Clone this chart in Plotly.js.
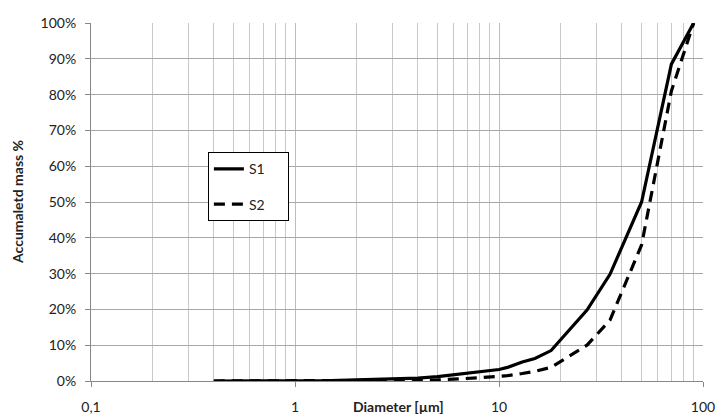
<!DOCTYPE html>
<html>
<head>
<meta charset="utf-8">
<script src="https://cdn.plot.ly/plotly-3.0.1.min.js"></script>
<style>
  html, body { margin: 0; padding: 0; background: #fff; }
  #chart { width: 721px; height: 414px; }
</style>
</head>
<body>
<div id="chart"></div>
<script>
// Particle diameters (µm)
const diameterS1 = [0.4, 0.5, 0.6, 0.8, 1, 1.5, 2, 3, 4, 5, 6, 8, 10, 11, 13, 15, 18, 27, 35, 50, 70, 90];
const massS1     = [0, 0, 0, 0, 0, 0.1, 0.3, 0.5, 0.8, 1.2, 1.7, 2.5, 3.2, 3.8, 5.3, 6.3, 8.5, 19.8, 29.8, 50, 88.5, 100];
const diameterS2 = [0.4, 0.5, 0.6, 0.8, 1, 1.5, 2, 3, 4, 5, 6, 8, 10, 11, 13, 15, 18, 27, 35, 50, 70, 90];
const massS2     = [0, 0, 0, 0, 0, 0, 0, 0.1, 0.2, 0.3, 0.5, 0.9, 1.3, 1.5, 2.1, 2.7, 3.8, 10, 17, 38, 81, 100];

const seriesNames = ["S1", "S2"];
const xTickVals = [0.1, 1, 10, 100];
const xTickText = ["0,1", "1", "10", "100"];
const yTitle = "Accumaletd mass %";
const xTitle = "Diameter [µm]";

// minor gridlines at 2..9 of each decade
const minorVals = [];
for (let d = -1; d < 2; d++) {
  for (let m = 2; m <= 9; m++) minorVals.push(m * Math.pow(10, d));
}

const FONT = "Lato, 'Open Sans', sans-serif";
const PAD = "\u00a0\u00a0\u00a0\u00a0\u00a0";

const traces = [
  {
    x: diameterS1, y: massS1, name: seriesNames[0] + PAD, type: "scatter", mode: "lines",
    line: { color: "#000", width: 3.2 }, legendgroup: "a"
  },
  {
    x: diameterS2, y: massS2, name: seriesNames[1] + PAD, type: "scatter", mode: "lines",
    line: { color: "#000", width: 3.2, dash: "11px,7px" }, legendgroup: "b"
  }
];

const layout = {
  width: 721, height: 414,
  margin: { l: 91, r: 18, t: 23, b: 33 },
  paper_bgcolor: "#fff", plot_bgcolor: "#fff",
  font: { family: FONT, size: 14, color: "#222" },
  showlegend: true,
  legend: {
    x: 0.191, y: 0.639, xanchor: "left", yanchor: "top",
    bordercolor: "#000", borderwidth: 1, bgcolor: "#fff",
    traceorder: "grouped", tracegroupgap: 14,
    font: { family: FONT, size: 14, color: "#222" }
  },
  xaxis: {
    type: "log", range: [-1, 2],
    tickmode: "array", tickvals: xTickVals, ticktext: xTickText,
    ticks: "outside", ticklen: 5, tickcolor: "#888",
    ticklabelstandoff: 8,
    showline: true, linecolor: "#888", linewidth: 1,
    showgrid: true, gridcolor: "#BDBDBD", gridwidth: 1,
    minor: { tickmode: "array", tickvals: minorVals, showgrid: true, gridcolor: "#C8C8C8", gridwidth: 1, ticks: "" },
    zeroline: false, fixedrange: true,
    tickfont: { family: FONT, size: 14, color: "#222" }
  },
  yaxis: {
    range: [0, 100], dtick: 10, ticksuffix: "%",
    ticks: "outside", ticklen: 5, tickcolor: "#888",
    showline: true, linecolor: "#888", linewidth: 1,
    showgrid: true, gridcolor: "#A8A8A8", gridwidth: 1,
    zeroline: false, fixedrange: true,
    ticklabelstandoff: 6,
    tickfont: { family: FONT, size: 14, color: "#222" }
  },
  annotations: [
    {
      text: "<b>" + xTitle + "</b>", xref: "paper", yref: "paper",
      x: 0.502, y: 0, yshift: -25, xanchor: "center", yanchor: "middle",
      showarrow: false, font: { family: FONT, size: 14, color: "#222" }
    },
    {
      text: "<b>" + yTitle + "</b>", xref: "paper", yref: "paper",
      x: 0, xshift: -74, y: 0.5, xanchor: "center", yanchor: "middle",
      textangle: -90, showarrow: false, font: { family: FONT, size: 14, color: "#222" }
    }
  ]
};

Plotly.newPlot("chart", traces, layout, { displayModeBar: false, staticPlot: true });
</script>
</body>
</html>
